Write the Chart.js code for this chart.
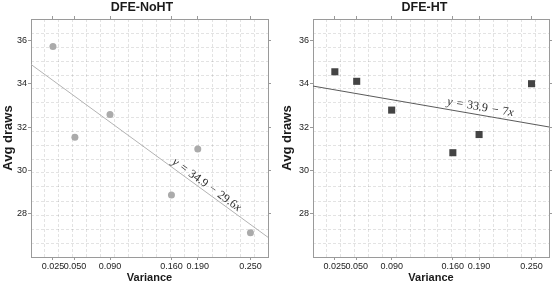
<!DOCTYPE html>
<html>
<head>
<meta charset="utf-8">
<script src="https://cdn.jsdelivr.net/npm/chart.js@4.4.1/dist/chart.umd.min.js"></script>
<style>
  body { margin: 0; background: #fff; overflow: hidden; width: 553px; height: 285px; position: relative; }
  canvas { position: absolute; top: 0; }
</style>
</head>
<body>
<canvas id="noht" width="284" height="285" style="left:0"></canvas>
<canvas id="ht" width="297" height="285" style="left:276px"></canvas>
<script>
// values
const variance = [0.025, 0.05, 0.09, 0.16, 0.19, 0.25];
const drawsNoHT = [35.73, 31.53, 32.59, 28.87, 30.99, 27.12];
const drawsHT = [34.56, 34.12, 32.79, 30.82, 31.66, 34.01];
const xTickValues = [0.025, 0.05, 0.09, 0.16, 0.19, 0.25];
const yTickValues = [28, 30, 32, 34, 36];
// fitted lines, ends at the panel edges
const fitX = [0, 0.27];
const fitNoHT = [34.9, 26.91];
const fitHT = [33.9, 32.01];
const eqNoHT = [["y", true], ["\u2004=\u200434.9\u2004\u2212\u200429.6", false], ["x", true]];
const eqHT = [["y", true], ["\u2004=\u200433.9\u2004\u2212\u20047", false], ["x", true]];

Chart.defaults.font.family = "'Liberation Sans', Arial, sans-serif";
Chart.defaults.color = "#333";

const axisGray = "#9a9a9a";

// writes the fit equation along its line
const eqLabel = {
  id: "eqLabel",
  afterDatasetsDraw(chart, args, opts) {
    const { ctx } = chart;
    const x = chart.scales.x, y = chart.scales.y;
    const x0 = x.getPixelForValue(opts.fx[0]), y0 = y.getPixelForValue(opts.fy[0]);
    const x1 = x.getPixelForValue(opts.fx[1]), y1 = y.getPixelForValue(opts.fy[1]);
    const ang = Math.atan2(y1 - y0, x1 - x0);
    const t = (opts.at - opts.fx[0]) / (opts.fx[1] - opts.fx[0]);
    ctx.save();
    ctx.translate(x0 + t * (x1 - x0), y0 + t * (y1 - y0));
    ctx.rotate(ang);
    ctx.fillStyle = "#2a2a2a";
    ctx.textBaseline = "alphabetic";
    ctx.textAlign = "left";
    const fontOf = it => (it ? "italic " : "") + "12px 'Liberation Serif', serif";
    let total = 0;
    opts.parts.forEach(p => { ctx.font = fontOf(p[1]); total += ctx.measureText(p[0]).width; });
    let cx = -total / 2;
    opts.parts.forEach(p => {
      ctx.font = fontOf(p[1]);
      ctx.fillText(p[0], cx, -opts.lift);
      cx += ctx.measureText(p[0]).width;
    });
    ctx.restore();
  }
};

function setTicks(values) {
  return s => { s.ticks = values.map(v => ({ value: v })); };
}

function makePanel(id, title, draws, fit, eq, cfg) {
  new Chart(document.getElementById(id), {
    type: "scatter",
    data: {
      datasets: [
        {
          data: fitX.map((v, i) => ({ x: v, y: fit[i] })),
          showLine: true,
          borderColor: cfg.lineColor,
          borderWidth: 1,
          pointRadius: 0
        },
        {
          data: variance.map((v, i) => ({ x: v, y: draws[i] })),
          pointStyle: cfg.pointStyle,
          pointRadius: cfg.pointRadius,
          backgroundColor: cfg.pointColor,
          borderWidth: 0
        }
      ]
    },
    options: {
      responsive: false,
      animation: false,
      layout: { padding: 0 },
      plugins: {
        legend: { display: false },
        tooltip: { enabled: false },
        title: {
          display: true,
          text: title,
          color: "#1a1a1a",
          font: { size: 12.5, weight: "bold" },
          padding: { top: 0, bottom: 4 }
        },
        eqLabel: { fx: fitX, fy: fit, parts: eq, at: cfg.eqAt, lift: cfg.eqLift }
      },
      scales: {
        x: {
          type: "linear", position: "bottom", min: 0, max: 0.27,
          afterBuildTicks: setTicks(xTickValues),
          afterFit: s => { s.height = 28; },
          ticks: { callback: v => v.toFixed(3), font: { size: 9 }, color: "#222", padding: 1, autoSkip: false, minRotation: 0, maxRotation: 0 },
          grid: { drawOnChartArea: false, drawTicks: true, tickLength: 3, color: axisGray },
          border: { display: true, color: axisGray },
          title: { display: true, text: "Variance", color: "#1a1a1a", font: { size: 11, weight: "bold" }, padding: 0 }
        },
        x2: {
          type: "linear", position: "top", min: 0, max: 0.27,
          afterBuildTicks: setTicks(xTickValues),
          afterFit: s => { s.height = 0; },
          ticks: { display: false },
          grid: { drawOnChartArea: false, drawTicks: true, tickLength: 3, color: axisGray },
          border: { display: true, color: axisGray }
        },
        y: {
          position: "left", min: 26, max: 37,
          afterBuildTicks: setTicks(yTickValues),
          afterFit: s => { s.width = cfg.yWidth; },
          ticks: { font: { size: 9 }, color: "#222", padding: 1 },
          grid: { drawOnChartArea: false, drawTicks: true, tickLength: 3, color: axisGray },
          border: { display: true, color: axisGray },
          title: { display: true, text: "Avg draws", color: "#1a1a1a", font: { size: 13, weight: "bold" }, padding: { top: cfg.yTitlePad, bottom: 0 } }
        },
        y2: {
          position: "right", min: 26, max: 37,
          afterBuildTicks: setTicks(yTickValues),
          afterFit: s => { s.width = cfg.rightGap; },
          ticks: { display: false },
          grid: { drawOnChartArea: false, drawTicks: true, tickLength: 3, color: axisGray },
          border: { display: true, color: axisGray }
        },
        gx: {
          type: "linear", position: "bottom", min: 0, max: 17,
          afterFit: s => { s.height = 0; },
          ticks: { display: false, stepSize: 1 },
          grid: { drawTicks: false, color: "rgba(0,0,0,0.11)" },
          border: { display: false, dash: [3, 2] }
        },
        gy: {
          position: "left", min: 0, max: 17,
          afterFit: s => { s.width = 0; },
          ticks: { display: false, stepSize: 1 },
          grid: { drawTicks: false, color: "rgba(0,0,0,0.11)" },
          border: { display: false, dash: [3, 2] }
        }
      }
    },
    plugins: [eqLabel]
  });
}

makePanel("noht", "DFE-NoHT", drawsNoHT, fitNoHT, eqNoHT, {
  lineColor: "#b3b3b3", pointStyle: "circle", pointRadius: 3.5, pointColor: "#ababab",
  rightGap: 16, yWidth: 31, yTitlePad: 1, eqAt: 0.196, eqLift: 3
});
makePanel("ht", "DFE-HT", drawsHT, fitHT, eqHT, {
  lineColor: "#5a5a5a", pointStyle: "rect", pointRadius: 5, pointColor: "#444444",
  rightGap: 24, yWidth: 37, yTitlePad: 4, eqAt: 0.19, eqLift: 4.5
});
</script>
</body>
</html>
